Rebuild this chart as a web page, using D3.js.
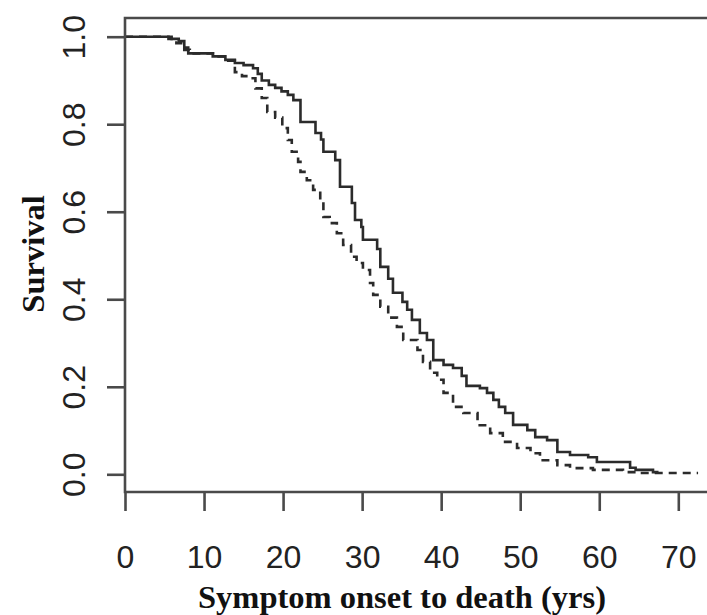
<!DOCTYPE html>
<html>
<head>
<meta charset="utf-8">
<script src="https://cdn.jsdelivr.net/npm/d3@7"></script>
<style>
  html, body { margin: 0; padding: 0; background: #fff; }
  svg { display: block; }
</style>
</head>
<body>
<svg id="chart" width="707" height="615"></svg>
<script>
// ---- data ----
const xTicks = [0, 10, 20, 30, 40, 50, 60, 70];
const yTicks = [0.0, 0.2, 0.4, 0.6, 0.8, 1.0];

// solid curve: time of each step and survival after the step
const solidTime = [0, 5.9, 6.8, 7.5, 8.0, 11.1, 12.7, 13.9, 15.0, 16.2, 16.8, 17.3, 18.2, 19.0, 19.8, 20.6, 21.3, 22.2, 24.1, 24.8, 25.1, 26.6, 27.2, 28.7, 29.1, 29.9, 30.1, 31.9, 32.3, 33.3, 33.9, 35.1, 35.7, 36.3, 37.3, 38.2, 39.0, 40.3, 41.5, 42.6, 43.2, 44.9, 45.8, 46.6, 47.3, 48.1, 49.1, 50.9, 51.9, 53.4, 54.7, 56.3, 58.6, 59.7, 63.9, 64.6, 66.8, 67.5];
const solidSurv = [1.0, 0.995, 0.99, 0.975, 0.962, 0.955, 0.947, 0.94, 0.935, 0.928, 0.915, 0.90, 0.89, 0.883, 0.875, 0.867, 0.855, 0.805, 0.78, 0.765, 0.737, 0.718, 0.657, 0.62, 0.581, 0.565, 0.536, 0.515, 0.474, 0.447, 0.415, 0.394, 0.376, 0.353, 0.323, 0.307, 0.261, 0.25, 0.243, 0.225, 0.202, 0.197, 0.186, 0.17, 0.154, 0.14, 0.113, 0.101, 0.085, 0.078, 0.051, 0.044, 0.039, 0.028, 0.015, 0.01, 0.005, 0.005];

// dashed curve
const dashTime = [0, 5.5, 6.5, 7.5, 8.2, 11.5, 12.7, 13.9, 14.8, 15.6, 16.5, 17.3, 18.0, 19.0, 19.9, 20.6, 21.1, 21.9, 22.2, 23.0, 23.8, 24.7, 25.1, 25.9, 26.8, 27.6, 28.6, 29.3, 30.1, 31.0, 31.4, 32.3, 33.3, 34.4, 35.2, 37.0, 37.7, 38.6, 39.5, 40.3, 41.5, 42.8, 44.6, 46.2, 47.8, 49.6, 51.3, 52.5, 54.7, 56.3, 59.2, 63.0, 64.8, 72.5];
const dashSurv = [1.0, 0.995, 0.985, 0.97, 0.962, 0.955, 0.945, 0.919, 0.91, 0.905, 0.882, 0.86, 0.828, 0.815, 0.791, 0.764, 0.737, 0.714, 0.691, 0.672, 0.65, 0.622, 0.588, 0.574, 0.551, 0.524, 0.497, 0.483, 0.467, 0.437, 0.41, 0.383, 0.358, 0.337, 0.307, 0.284, 0.257, 0.232, 0.216, 0.186, 0.154, 0.14, 0.112, 0.094, 0.074, 0.06, 0.048, 0.032, 0.021, 0.014, 0.01, 0.005, 0.003, 0.003];

const xLabel = "Symptom onset to death (yrs)";
const yLabel = "Survival";

// ---- layout ----
const svg = d3.select("#chart");
const boxLeft = 125, boxTop = 18, boxBottom = 492, boxRight = 720;
const x = d3.scaleLinear().domain([0, 70]).range([125, 678.3]);
const y = d3.scaleLinear().domain([0, 1]).range([474.3, 36.7]);
const ink = "#2b2b2b";
const axisInk = "#4a4a4a";

// curves
const line = d3.line().x(d => x(d[0])).y(d => y(d[1])).curve(d3.curveStepAfter);
const solid = solidTime.map((t, i) => [t, solidSurv[i]]);
const dashed = dashTime.map((t, i) => [t, dashSurv[i]]);

svg.append("path").datum(dashed)
  .attr("d", line).attr("fill", "none")
  .attr("stroke", ink).attr("stroke-width", 2.6)
  .attr("stroke-dasharray", "8,6");
svg.append("path").datum(solid)
  .attr("d", line).attr("fill", "none")
  .attr("stroke", ink).attr("stroke-width", 2.6);

// box
svg.append("path")
  .attr("d", `M${boxRight},${boxTop}H${boxLeft}V${boxBottom}H${boxRight}`)
  .attr("fill", "none").attr("stroke", axisInk).attr("stroke-width", 2.6);

// x axis
const gx = svg.append("g").attr("transform", `translate(0,${boxBottom})`)
  .call(d3.axisBottom(x).tickValues(xTicks).tickSize(19).tickFormat(d3.format("d")));
gx.select(".domain").remove();
gx.selectAll(".tick line").attr("stroke", axisInk).attr("stroke-width", 2.6);
gx.selectAll(".tick text")
  .attr("y", 76).attr("dy", null)
  .attr("fill", "#222")
  .style("font-family", "'Liberation Sans', Arial, sans-serif")
  .style("font-size", "32px");

// y axis
const gy = svg.append("g").attr("transform", `translate(${boxLeft},0)`)
  .call(d3.axisLeft(y).tickValues(yTicks).tickSize(18).tickFormat(d3.format(".1f")));
gy.select(".domain").remove();
gy.selectAll(".tick line").attr("stroke", axisInk).attr("stroke-width", 2.6);
gy.selectAll(".tick text")
  .attr("x", null).attr("dy", null)
  .attr("text-anchor", "middle")
  .attr("transform", "translate(-40,0) rotate(-90)")
  .attr("fill", "#222")
  .style("font-family", "'Liberation Sans', Arial, sans-serif")
  .style("font-size", "32px");

// titles
svg.append("text")
  .attr("x", 402).attr("y", 608)
  .attr("text-anchor", "middle")
  .attr("fill", "#111")
  .style("font-family", "'Liberation Serif', 'Times New Roman', serif")
  .style("font-weight", "bold")
  .style("font-size", "32.5px")
  .text(xLabel);

svg.append("text")
  .attr("transform", "translate(44,254) rotate(-90)")
  .attr("text-anchor", "middle")
  .attr("fill", "#111")
  .style("font-family", "'Liberation Serif', 'Times New Roman', serif")
  .style("font-weight", "bold")
  .style("font-size", "32.5px")
  .text(yLabel);
</script>
</body>
</html>
